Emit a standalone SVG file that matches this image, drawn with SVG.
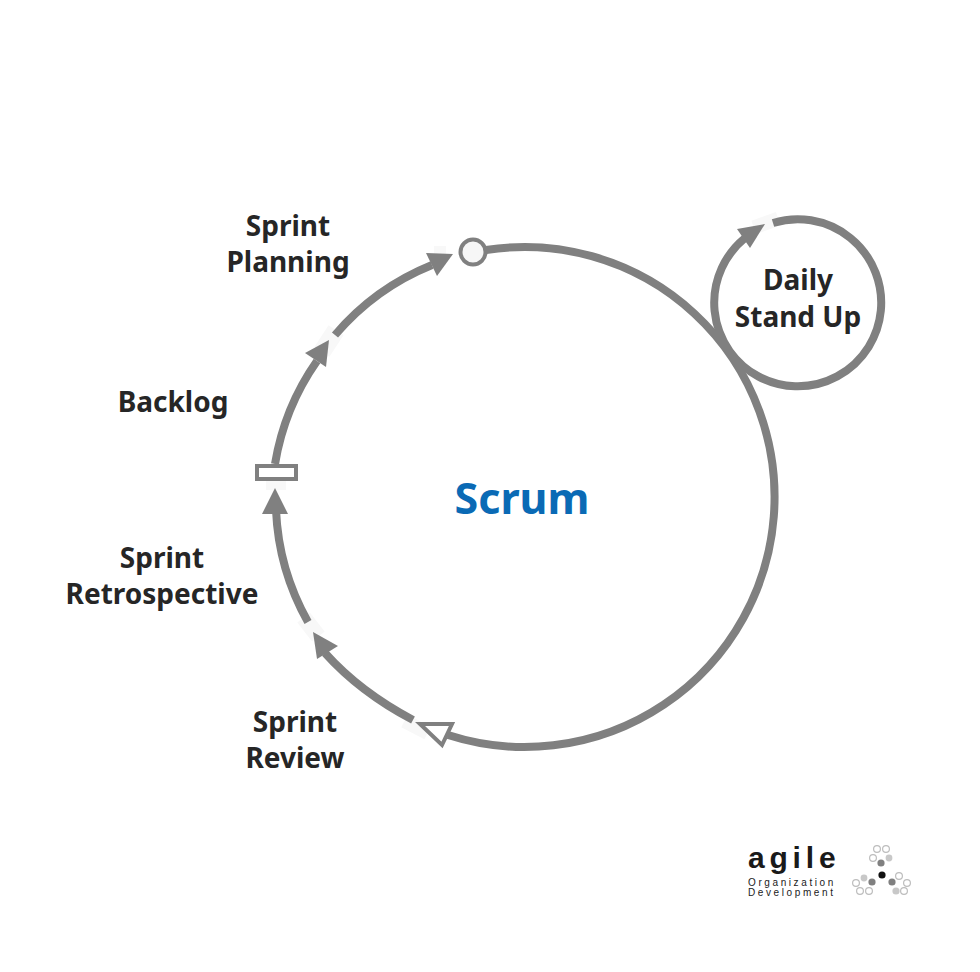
<svg xmlns="http://www.w3.org/2000/svg" width="980" height="972" viewBox="0 0 980 972">
  <style>
    .flow { fill: none; stroke: #808080; stroke-width: 8; }
    .head { fill: #808080; }
    .haze { fill: #f8f8f8; }
    .label { font-family: "Noto Sans", "Open Sans", sans-serif; font-weight: 700; font-size: 28px; fill: #262626; text-anchor: middle; }
    .brand { font-family: "Liberation Sans", sans-serif; fill: #1a1a1a; }
    .open { fill: #fff; stroke: #bdbdbd; stroke-width: 1.2; }
  </style>
  <rect width="980" height="972" fill="#fff"/>

  <g id="connectors">
    <!-- faint patches behind the arrow gaps -->
    <rect class="haze" x="-9" y="-13" width="18" height="26" transform="translate(329 341) rotate(33)"/>
    <rect class="haze" x="-10" y="-10" width="20" height="20" transform="translate(276 480)"/>
    <rect class="haze" x="-8" y="-12" width="16" height="24" transform="translate(311 627) rotate(-38)"/>
    <rect class="haze" x="-7" y="-13" width="14" height="26" transform="translate(416 727) rotate(-63)"/>
    <rect class="haze" x="-7" y="-13" width="14" height="26" transform="translate(766 223) rotate(70)"/>
    <rect class="haze" x="-6" y="-6" width="12" height="12" transform="translate(440 252)"/>

    <!-- main loop: clockwise from the planning marker round to the review marker -->
    <path class="flow" d="M486 250 A250 250 0 1 1 448 735"/>
    <path class="flow" d="M413 720 Q360 692 325 653"/>
    <path class="flow" d="M308 622 A250 250 0 0 1 276 510"/>
    <path class="flow" d="M275 464 A250 250 0 0 1 317 361"/>
    <path class="flow" d="M335 335 A250 250 0 0 1 432 265"/>
    <!-- daily loop -->
    <path class="flow" d="M773 223 A83.5 83.5 0 1 1 745 238"/>

    <polygon class="head" points="313,632 317,659 338,646"/>
    <polygon class="head" points="275,488 262,514 288,514"/>
    <polygon class="head" points="329,340 305,353 326,367"/>
    <polygon class="head" points="453,254 426,253 437,276"/>
    <polygon class="head" points="765,224 737,229 750,248"/>
  </g>

  <g id="marker-planning">
    <circle cx="473" cy="252" r="12.5" fill="#f6f6f6" stroke="#808080" stroke-width="4"/>
  </g>
  <g id="marker-backlog">
    <rect x="257" y="466" width="39" height="13" fill="#fff" stroke="#808080" stroke-width="4"/>
  </g>
  <g id="marker-review">
    <polygon points="420,724 452,724 442,745" fill="#fff" stroke="#808080" stroke-width="4"/>
  </g>

  <g id="node-scrum">
    <text x="522" y="514" text-anchor="middle" font-family="Noto Sans, Open Sans, sans-serif" font-weight="700" font-size="43" fill="#0a6ab5">Scrum</text>
  </g>
  <g id="node-daily">
    <text class="label" x="798" y="290">Daily</text>
    <text class="label" x="798" y="327">Stand Up</text>
  </g>
  <g id="node-planning">
    <text class="label" x="288" y="236">Sprint</text>
    <text class="label" x="288" y="272">Planning</text>
  </g>
  <g id="node-backlog">
    <text class="label" x="173" y="412">Backlog</text>
  </g>
  <g id="node-retrospective">
    <text class="label" x="162" y="568">Sprint</text>
    <text class="label" x="162" y="604">Retrospective</text>
  </g>
  <g id="node-review">
    <text class="label" x="295" y="732">Sprint</text>
    <text class="label" x="295" y="768">Review</text>
  </g>

  <g id="logo">
    <text class="brand" x="748" y="868" font-size="30" font-weight="700" letter-spacing="4.8">agile</text>
    <text class="brand" x="748" y="886" font-size="10" letter-spacing="2.6">Organization</text>
    <text class="brand" x="748" y="896" font-size="10" letter-spacing="2.6">Development</text>
    <circle class="open" cx="877" cy="849" r="3.4"/>
    <circle class="open" cx="886" cy="849" r="3.4"/>
    <circle class="open" cx="873" cy="858" r="3.4"/>
    <circle cx="889" cy="858" r="3.4" fill="#c8c8c8"/>
    <circle cx="881" cy="863" r="3.6" fill="#808080"/>
    <circle cx="882" cy="875" r="3.6" fill="#111"/>
    <circle cx="864" cy="878" r="3.4" fill="#c8c8c8"/>
    <circle cx="872" cy="882" r="3.6" fill="#808080"/>
    <circle class="open" cx="856" cy="883" r="3.4"/>
    <circle class="open" cx="860" cy="891" r="3.4"/>
    <circle class="open" cx="869" cy="891" r="3.4"/>
    <circle cx="892" cy="882" r="3.6" fill="#808080"/>
    <circle class="open" cx="899" cy="876" r="3.4"/>
    <circle class="open" cx="907" cy="883" r="3.4"/>
    <circle cx="896" cy="891" r="3.6" fill="#c8c8c8"/>
    <circle class="open" cx="904" cy="891" r="3.4"/>
  </g>
</svg>
